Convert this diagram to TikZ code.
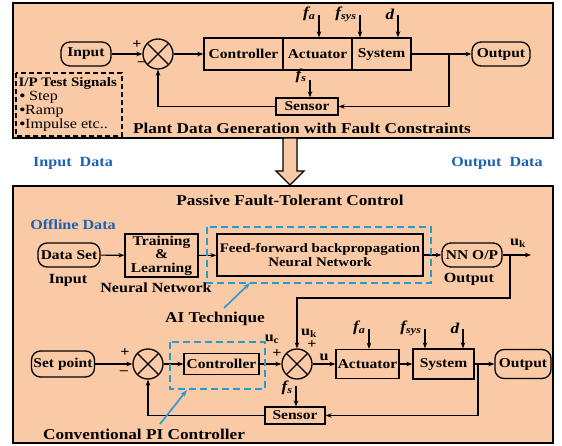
\documentclass[tikz,border=0pt]{standalone}
\usepackage{fontspec}
\setmainfont{Liberation Serif}[FakeStretch=1.15]
\usetikzlibrary{arrows.meta}

\definecolor{peach}{RGB}{250,201,165}
\definecolor{datablue}{RGB}{28,96,176}
\definecolor{aiblue}{RGB}{38,156,206}

\newcommand{\flt}[1]{\textit{f\textsubscript{#1}}}
\newcommand{\usig}[1]{u\textsubscript{#1}}
\newcommand{\dotitem}{{\bfseries\textbullet}}

\begin{document}
\begin{tikzpicture}[x=1pt,y=-1pt,
    font=\fontsize{13.5}{14}\selectfont\bfseries,
    >={Stealth[length=6pt,width=4.5pt]},
    line width=1.1pt,
    blk/.style={draw,line width=1.3pt,inner sep=0pt},
    term/.style={blk,rounded corners=9pt},
    summer/.style={draw,circle,line width=1.3pt,minimum size=30pt,inner sep=0pt,
      path picture={\draw[line width=1.3pt]
        (path picture bounding box.north west) -- (path picture bounding box.south east)
        (path picture bounding box.north east) -- (path picture bounding box.south west);}},
    panel/.style={draw,line width=1.8pt,fill=peach},
    caption/.style={font=\fontsize{15}{16}\selectfont\bfseries},
    lbl/.style={inner sep=0pt,font=\fontsize{14}{15}\selectfont\bfseries},
    flab/.style={inner sep=1pt,font=\fontsize{15}{16}\selectfont\bfseries},
    datalbl/.style={text=datablue,font=\fontsize{14}{15}\selectfont\bfseries},
    aibox/.style={draw=aiblue,line width=1.8pt,dash pattern=on 7pt off 4pt},
    aiarrow/.style={-{Stealth[length=7pt,width=5pt]},draw=aiblue,line width=1.6pt}
  ]

  \fill[white] (0,0) rectangle (562,446);
  \useasboundingbox (0,0) rectangle (562,446);

  % ---------------- plant data generation ----------------
  \draw[panel] (13,3) rectangle (553,138);

  \node[term,minimum width=50pt,minimum height=24pt] (in1) at (86,54) {Input};
  \node[summer] (s1) at (158,54) {};
  \node[blk,minimum width=79pt,minimum height=32pt] (ctrl1) at (243.5,54) {Controller};
  \node[blk,minimum width=69pt,minimum height=32pt] (act1) at (317.5,54) {Actuator};
  \node[blk,minimum width=59pt,minimum height=32pt] (sys1) at (381.5,54) {System};
  \node[term,minimum width=58pt,minimum height=24pt] (out1) at (501,54) {Output};
  \node[blk,minimum width=62pt,minimum height=17pt] (sen1) at (307,106.5) {Sensor};

  \node[lbl] (p1) at (137,45) {+};
  \node[lbl] (m1) at (142,64) {--};

  % faults entering the plant
  \foreach \x/\tgt/\nm/\lab in {319/act1/fa1/{\flt{a}},360/sys1/fsys1/{\flt{sys}},398/sys1/d1/{\textit{d}}} {%
    \coordinate (\nm) at (\x,15);
    \node[flab,anchor=east] (\nm l) at ([xshift=-2pt,yshift=1pt]\nm) {\lab};
    \draw[->] (\nm) -- (\nm |- \tgt.north);
  }
  \coordinate (fs1) at (310,80);
  \node[flab,anchor=east] (fs1l) at ([xshift=-2pt,yshift=4pt]fs1) {\flt{s}};
  \draw[->] (fs1) -- (fs1 |- sen1.north);

  \draw[->] (in1) -- (s1);
  \draw[->] (s1) -- (ctrl1);
  \draw[->] (sys1) -- (out1);
  \coordinate (br1) at (449,54);
  \draw[->] (br1) |- (sen1);
  \draw[->] (sen1) -| (s1);

  % test signals
  \draw[line width=1.3pt,dash pattern=on 5pt off 3pt] (16,73) rectangle (122,136);
  \node[lbl,anchor=west,font=\fontsize{13}{14}\selectfont\bfseries] (tsig) at (18,83) {I/P Test Signals};
  \node[lbl,anchor=west,font=\fontsize{14}{15}\selectfont] (tstep) at (19,97) {\dotitem\ Step};
  \node[lbl,anchor=west,font=\fontsize{14}{15}\selectfont] (tramp) at (19,111) {\dotitem Ramp};
  \node[lbl,anchor=west,font=\fontsize{14}{15}\selectfont] (timp) at (19,125) {\dotitem Impulse etc..};

  \node[caption] (plant) at (302,128) {Plant Data Generation with Fault Constraints};

  % ---------------- data hand-over ----------------
  \draw[line width=1.3pt,fill=peach] (283,138) -- (297,138) -- (297,171) -- (304,171)
    -- (290,185) -- (276,171) -- (283,171) -- cycle;
  \node[datalbl] (indata) at (73,163) {Input\ \ Data};
  \node[datalbl] (outdata) at (497,163) {Output\ \ Data};

  % ---------------- passive FTC ----------------
  \draw[panel] (13,186) rectangle (553,443);
  \node[caption] (ftc) at (290,200) {Passive Fault-Tolerant Control};

  \node[datalbl] (offline) at (73,225) {Offline Data};
  \node[term,minimum width=62pt,minimum height=24pt] (ds) at (69,255) {Data Set};
  \node[lbl] (dsin) at (68,280) {Input};
  \node[blk,minimum width=73pt,minimum height=43pt,align=center,
        font=\fontsize{13.5}{13.5}\selectfont\bfseries] (train) at (161.5,255.5) {Training\\\&\\Learning};
  \node[lbl] (nnlab) at (156,288) {Neural Network};
  \node[blk,minimum width=206pt,minimum height=42pt,align=center,
        font=\fontsize{13}{14}\selectfont\bfseries] (ff) at (320,255) {Feed-forward backpropagation\\Neural Network};
  \node[term,minimum width=60pt,minimum height=24pt] (nnop) at (472,255) {NN O/P};
  \node[lbl] (nnout) at (469,279) {Output};

  \draw[->] (ds) -- (train);
  \draw[->] (train) -- (ff);
  \draw[->] (ff) -- (nnop);
  \coordinate (ukend) at (531,255);
  \draw[->] (nnop) -- (ukend);
  \node[lbl] (uklab1) at (518,243) {\usig{k}};

  \draw[aibox] (207,227) rectangle (431,283);

  % control loop
  \node[term,minimum width=63pt,minimum height=26pt] (sp) at (63,364) {Set point};
  \node[summer] (s2) at (148,364) {};
  \node[blk,minimum width=75pt,minimum height=21pt] (ctrl2) at (221.5,364) {Controller};
  \node[summer] (s3) at (297,364) {};
  \node[blk,minimum width=63pt,minimum height=29pt] (act2) at (367.5,364) {Actuator};
  \node[blk,minimum width=61pt,minimum height=30pt] (sys2) at (443.5,364) {System};
  \node[term,minimum width=56pt,minimum height=29pt] (out2) at (523,364) {Output};
  \node[blk,minimum width=60pt,minimum height=17pt] (sen2) at (295,415.5) {Sensor};

  \node[lbl] (p2) at (125,353) {+};
  \node[lbl] (m2) at (124,373) {--};
  \node[lbl] (uclab) at (272,339) {\usig{c}};
  \node[lbl] (p3) at (277,354) {+};
  \node[lbl] (uklab2) at (309,333) {\usig{k}};
  \node[lbl] (p4) at (312,345) {+};
  \node[lbl] (ulab) at (324,357) {u};

  \foreach \x/\tgt/\nm/\lab in {369/act2/fa2/{\flt{a}},425/sys2/fsys2/{\flt{sys}},463/sys2/d2/{\textit{d}}} {%
    \coordinate (\nm) at (\x,329);
    \node[flab,anchor=east] (\nm l) at ([xshift=-2pt,yshift=1pt]\nm) {\lab};
    \draw[->] (\nm) -- (\nm |- \tgt.north);
  }
  \coordinate (fs2) at (296,386);
  \node[flab,anchor=east] (fs2l) at ([xshift=-2pt,yshift=-2pt]fs2) {\flt{s}};
  \draw[->] (fs2) -- (fs2 |- sen2.north);

  \draw[->] (sp) -- (s2);
  \draw[->] (s2) -- (ctrl2);
  \draw[->] (ctrl2) -- (s3);
  \draw[->] (s3) -- (act2);
  \draw[->] (act2) -- (sys2);
  \draw[->] (sys2) -- (out2);
  \coordinate (br3) at (478,364);
  \draw[->] (br3) |- (sen2);
  \draw[->] (sen2) -| (s2);

  % NN output added to the control signal
  \coordinate (br2) at (510,255);
  \coordinate (ukdown) at (510,298);
  \draw[->] (br2) -- (ukdown) -| (s3);

  \draw[aibox] (170,342) rectangle (265,389);

  % annotations
  \node[caption] (ailab) at (215,319) {AI Technique};
  \coordinate (aifrom) at (224,308);
  \coordinate (aito) at (250,283);
  \draw[aiarrow] (aifrom) -- (aito);

  \node[caption] (pilab) at (144,434) {Conventional PI Controller};
  \coordinate (pifrom) at (160,424);
  \coordinate (pito) at (187,390);
  \draw[aiarrow] (pifrom) -- (pito);

\end{tikzpicture}
\end{document}
